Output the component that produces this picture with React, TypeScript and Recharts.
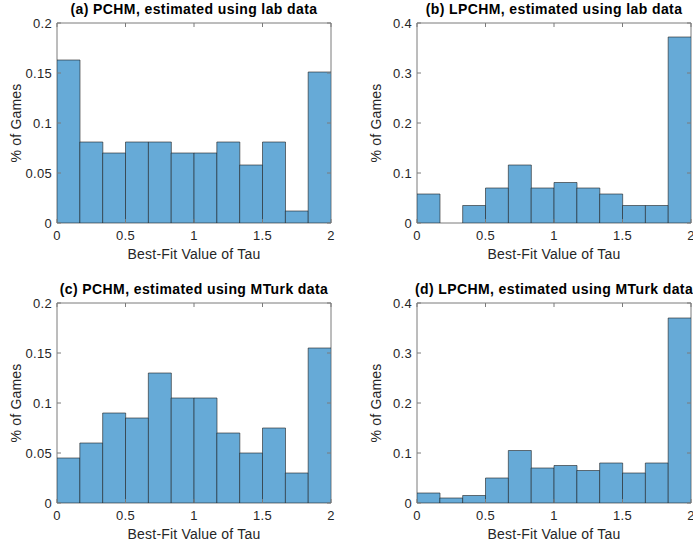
import React from "react";
import { BarChart, Bar, XAxis, YAxis, Label, ReferenceArea } from "recharts";

// centres of the 12 equal bins over tau in [0, 2]
const binCenters = [
  0.083333, 0.25, 0.416667, 0.583333, 0.75, 0.916667,
  1.083333, 1.25, 1.416667, 1.583333, 1.75, 1.916667,
];

const xTicks = [0, 0.5, 1, 1.5, 2];
const yTicksSmall = [0, 0.05, 0.1, 0.15, 0.2];
const yTicksLarge = [0, 0.1, 0.2, 0.3, 0.4];

const pchmLab = [0.163, 0.081, 0.07, 0.081, 0.081, 0.07, 0.07, 0.081, 0.058, 0.081, 0.012, 0.151];
const lpchmLab = [0.058, 0, 0.035, 0.07, 0.116, 0.07, 0.081, 0.07, 0.058, 0.035, 0.035, 0.372];
const pchmMturk = [0.045, 0.06, 0.09, 0.085, 0.13, 0.105, 0.105, 0.07, 0.05, 0.075, 0.03, 0.155];
const lpchmMturk = [0.02, 0.01, 0.015, 0.05, 0.105, 0.07, 0.075, 0.065, 0.08, 0.06, 0.08, 0.37];

const FONT = '"Liberation Sans", Arial, Helvetica, sans-serif';
const TEXT = "#262626";
const AXIS = "#7a7a7a";

// plot box inside each 360x270 panel
const LEFT = 57;
const RIGHT = 331;
const TOP = 23;
const BOTTOM = 223;

const XTick = (props: any) => {
  const { x, payload } = props;
  return (
    <g>
      <line x1={x} x2={x} y1={BOTTOM} y2={BOTTOM - 4} stroke={AXIS} />
      <line x1={x} x2={x} y1={TOP} y2={TOP + 4} stroke={AXIS} />
      <text
        x={x}
        y={BOTTOM + 17}
        textAnchor="middle"
        fill={TEXT}
        fontSize={13}
        fontFamily={FONT}
        letterSpacing={0.3}
      >
        {payload.value}
      </text>
    </g>
  );
};

const YTick = (props: any) => {
  const { y, payload } = props;
  return (
    <g>
      <line x1={LEFT} x2={LEFT + 4} y1={y} y2={y} stroke={AXIS} />
      <line x1={RIGHT - 4} x2={RIGHT} y1={y} y2={y} stroke={AXIS} />
      <text
        x={LEFT - 5}
        y={y + 4.5}
        textAnchor="end"
        fill={TEXT}
        fontSize={13}
        fontFamily={FONT}
        letterSpacing={0.3}
      >
        {payload.value}
      </text>
    </g>
  );
};

type PanelProps = {
  title: string;
  values: number[];
  yTicks: number[];
  left: number;
  top: number;
};

const Panel = ({ title, values, yTicks, left, top }: PanelProps) => {
  const data = binCenters.map((tau, i) => ({ tau, value: values[i] }));
  const yMax = yTicks[yTicks.length - 1];
  return (
    <div style={{ position: "absolute", left, top, width: 360, height: 270 }}>
      <div
        style={{
          position: "absolute",
          left: (LEFT + RIGHT) / 2 - 200,
          width: 400,
          top: 1,
          textAlign: "center",
          whiteSpace: "nowrap",
          fontFamily: FONT,
          fontWeight: "bold",
          fontSize: 14,
          letterSpacing: 0.4,
          color: "#000",
        }}
      >
        {title}
      </div>
      <BarChart
        width={360}
        height={270}
        data={data}
        margin={{ top: TOP, right: 360 - RIGHT, bottom: 7, left: 0 }}
        barCategoryGap={0}
        barGap={0}
        style={{ fontFamily: FONT }}
      >
        <XAxis
          dataKey="tau"
          type="number"
          domain={[0, 2]}
          ticks={xTicks}
          allowDataOverflow
          interval={0}
          height={270 - 7 - BOTTOM}
          axisLine={false}
          tickLine={false}
          tick={<XTick />}
        >
          <Label
            value="Best-Fit Value of Tau"
            position="insideBottom"
            offset={4}
            fill={TEXT}
            fontSize={14}
            style={{ letterSpacing: 0.2 }}
          />
        </XAxis>
        <YAxis
          type="number"
          domain={[0, yMax]}
          ticks={yTicks}
          allowDataOverflow
          interval={0}
          width={LEFT}
          axisLine={false}
          tickLine={false}
          tick={<YTick />}
        >
          <Label
            value="% of Games"
            angle={-90}
            position="insideLeft"
            offset={16}
            fill={TEXT}
            fontSize={14}
            style={{ textAnchor: "middle", letterSpacing: 0.2 }}
          />
        </YAxis>
        <Bar
          dataKey="value"
          fill="#66aad7"
          stroke="#1e1e1e"
          strokeWidth={0.6}
          isAnimationActive={false}
        />
        <ReferenceArea x1={0} x2={2} y1={0} y2={yMax} fill="none" stroke={AXIS} strokeWidth={1} />
      </BarChart>
    </div>
  );
};

const App = () => (
  <div
    style={{
      position: "fixed",
      left: 0,
      top: 0,
      width: 693,
      height: 548,
      overflow: "hidden",
      background: "#fff",
    }}
  >
    <Panel title="(a) PCHM, estimated using lab data" values={pchmLab} yTicks={yTicksSmall} left={0} top={0} />
    <Panel title="(b) LPCHM, estimated using lab data" values={lpchmLab} yTicks={yTicksLarge} left={360} top={0} />
    <Panel title="(c) PCHM, estimated using MTurk data" values={pchmMturk} yTicks={yTicksSmall} left={0} top={280} />
    <Panel title="(d) LPCHM, estimated using MTurk data" values={lpchmMturk} yTicks={yTicksLarge} left={360} top={280} />
  </div>
);

export default App;
